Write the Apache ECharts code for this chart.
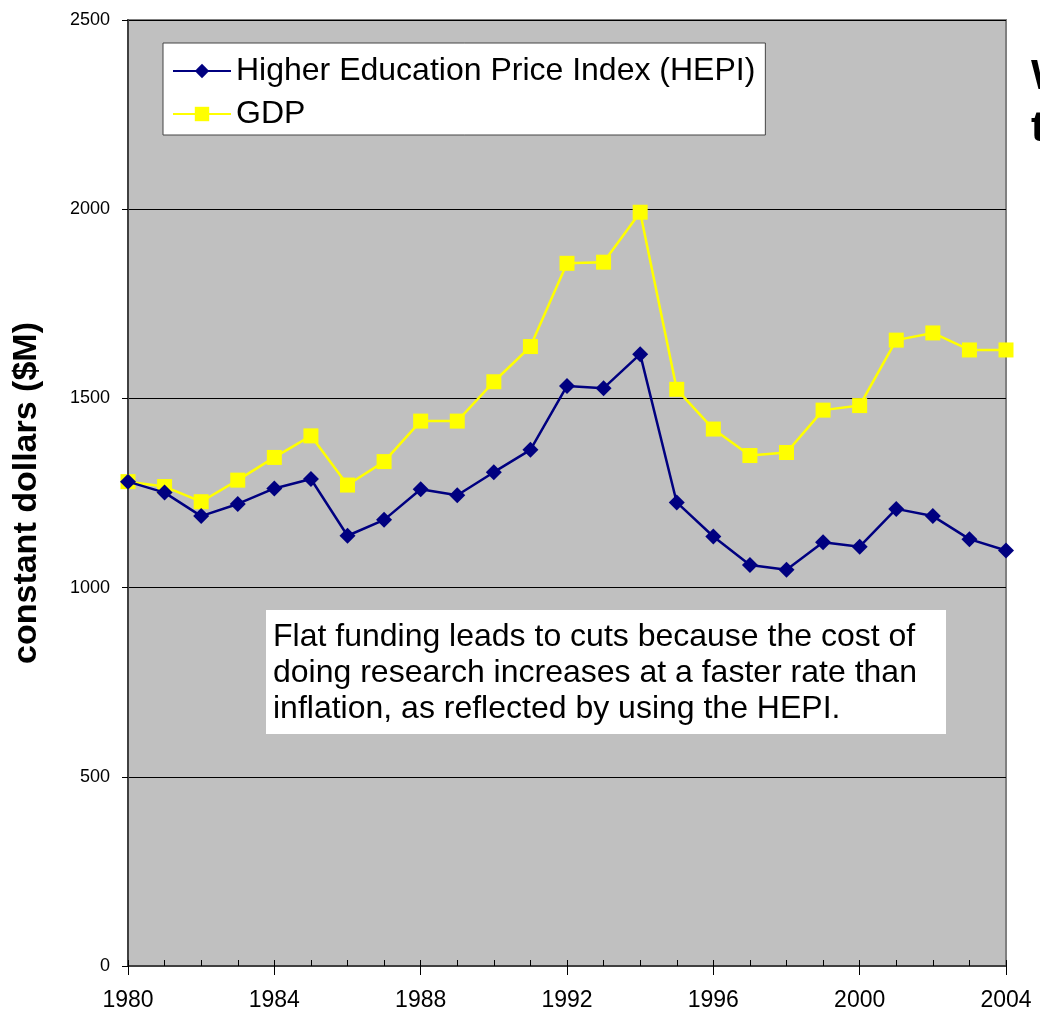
<!DOCTYPE html>
<html lang="en">
<head>
    <meta charset="UTF-8">
    <title>HEPI vs GDP</title>
    <style>
        * { margin: 0; padding: 0; }
        body { background: #fff; }
        .box { width: 1040px; height: 1016px; }
    </style>
</head>
<body>
    <div class="box"></div>

    <script src="https://cdn.jsdelivr.net/npm/echarts@6/dist/echarts.min.js"></script>
    <script>
        var years = [1980, 1981, 1982, 1983, 1984, 1985, 1986, 1987, 1988, 1989, 1990, 1991,
            1992, 1993, 1994, 1995, 1996, 1997, 1998, 1999, 2000, 2001, 2002, 2003, 2004];
        var hepi = [1280, 1251, 1189, 1221, 1262, 1287, 1137, 1179, 1260, 1244, 1305, 1364,
            1533, 1527, 1617, 1225, 1135, 1060, 1047, 1120, 1108, 1208, 1189, 1128, 1098];
        var gdp = [1280, 1267, 1227, 1284, 1344, 1401, 1271, 1333, 1440, 1440, 1544, 1637,
            1857, 1860, 1992, 1524, 1419, 1349, 1357, 1469, 1481, 1654, 1673, 1628, 1628];
        var yTicks = [0, 500, 1000, 1500, 2000, 2500];
        var note = 'Flat funding leads to cuts because the cost of\n' +
            'doing research increases at a faster rate than\n' +
            'inflation, as reflected by using the HEPI.';

        var chart = echarts.init(document.querySelector('.box'));
        var font = 'Liberation Sans, Arial';

        function pairs(vals) {
            return vals.map(function (v, i) { return [years[i], v]; });
        }
        function plain(v) { return String(v); }

        var option = {
            animation: false,
            grid: {
                left: 128, right: 34, top: 20, bottom: 50,
                show: true,
                backgroundColor: '#c0c0c0',
                borderColor: '#808080',
                borderWidth: 2
            },
            legend: {
                orient: 'vertical',
                left: 163,
                top: 43,
                padding: [12, 10, 5, 9],
                backgroundColor: '#fff',
                borderColor: '#444',
                borderWidth: 1,
                itemWidth: 58,
                itemHeight: 18,
                itemGap: 11,
                textStyle: { fontFamily: font, fontSize: 32, color: '#000' },
                data: ['Higher Education Price Index (HEPI)', 'GDP']
            },
            xAxis: [{
                type: 'value',
                min: 1980, max: 2004, interval: 4,
                axisLine: { lineStyle: { color: '#404040', width: 2 } },
                axisTick: { show: true, length: 9, lineStyle: { color: '#000' } },
                axisLabel: { color: '#000', fontFamily: font, fontSize: 23, margin: 23, formatter: plain },
                splitLine: { show: false }
            }, {
                type: 'value',
                position: 'bottom',
                min: 1980, max: 2004, interval: 1,
                axisLine: { show: false },
                axisTick: { show: true, inside: true, length: 6, lineStyle: { color: '#000' } },
                axisLabel: { show: false },
                splitLine: { show: false }
            }],
            yAxis: {
                type: 'value',
                min: yTicks[0], max: yTicks[yTicks.length - 1], interval: 500,
                name: 'constant dollars ($M)',
                nameLocation: 'middle',
                nameGap: 84,
                nameTextStyle: { fontFamily: font, fontSize: 34, fontWeight: 'bold', color: '#000' },
                axisLine: { show: true, lineStyle: { color: '#404040', width: 2 } },
                axisTick: { show: true, length: 6, lineStyle: { color: '#000' } },
                axisLabel: { color: '#000', fontFamily: font, fontSize: 18, margin: 18, formatter: plain },
                splitLine: {
                    show: true,
                    lineStyle: { color: '#000', width: 1 }
                }
            },
            series: [{
                name: 'Higher Education Price Index (HEPI)',
                type: 'line',
                data: pairs(hepi),
                symbol: 'diamond',
                symbolSize: 16,
                itemStyle: { color: '#000080' },
                lineStyle: { color: '#000080', width: 2.5 },
                z: 3
            }, {
                name: 'GDP',
                type: 'line',
                data: pairs(gdp),
                symbol: 'rect',
                symbolSize: 15,
                itemStyle: { color: '#ffff00' },
                lineStyle: { color: '#ffff00', width: 2.5 },
                z: 2
            }],
            graphic: [{
                type: 'rect',
                left: 266, top: 610,
                shape: { width: 680, height: 124 },
                style: { fill: '#fff' },
                z: 10
            }, {
                type: 'text',
                left: 273, top: 619,
                style: {
                    text: note,
                    fill: '#000',
                    font: '32px "Liberation Sans", Arial',
                    lineHeight: 36
                },
                z: 11
            }, {
                type: 'text',
                left: 1031, top: 51,
                style: {
                    text: 'W\nt',
                    fill: '#000',
                    font: 'bold 42px "Liberation Sans", Arial',
                    lineHeight: 52
                },
                z: 11
            }]
        };

        chart.setOption(option);
    </script>
</body>
</html>
